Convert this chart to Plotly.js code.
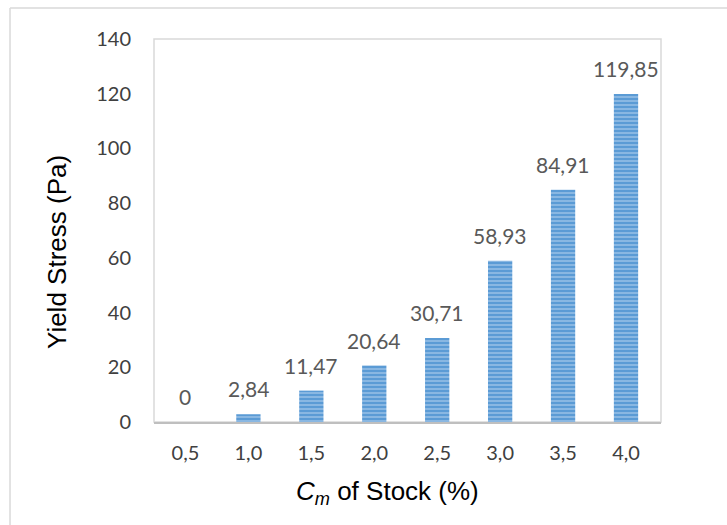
<!DOCTYPE html>
<html>
<head>
<meta charset="utf-8">
<script src="https://cdn.plot.ly/plotly-3.0.1.min.js"></script>
<style>
  html, body { margin: 0; padding: 0; background: #ffffff; }
  #chart { width: 727px; height: 525px; }
</style>
</head>
<body>
<div id="chart"></div>
<script>
// Stock concentration categories (%) and measured yield stress (Pa)
const concentrations = ['0,5', '1,0', '1,5', '2,0', '2,5', '3,0', '3,5', '4,0'];
const yieldStress = [0, 2.84, 11.47, 20.64, 30.71, 58.93, 84.91, 119.85];
const yTicks = [0, 20, 40, 60, 80, 100, 120, 140];

// Value labels with a decimal comma
function fmt(v) {
  return v === 0 ? '0' : v.toFixed(2).replace('.', ',');
}

const labelFont = { family: 'Lato, "Open Sans", sans-serif', size: 21, color: '#595959' };
const tickFont = { family: 'Lato, "Open Sans", sans-serif', size: 20, color: '#404040' };
const titleFont = { family: '"Liberation Sans", Arial, sans-serif', size: 26, color: '#000000' };

const bars = {
  type: 'bar',
  x: concentrations,
  y: yieldStress,
  marker: {
    color: '#5b9bd5',
    line: { width: 0 },
    pattern: {
      shape: '-',
      fillmode: 'overlay',
      bgcolor: '#5b9bd5',
      fgcolor: '#c2daf2',
      size: 4,
      solidity: 0.45
    }
  },
  hoverinfo: 'x+y'
};

const valueLabels = concentrations.map((c, i) => ({
  x: c,
  y: yieldStress[i],
  xref: 'x',
  yref: 'y',
  text: fmt(yieldStress[i]),
  showarrow: false,
  yanchor: 'bottom',
  yshift: 11,
  font: labelFont
}));

// Axis titles placed as annotations
const axisTitles = [
  {
    xref: 'paper', yref: 'paper',
    x: 0.4615, y: -0.185,
    xanchor: 'center', yanchor: 'middle',
    text: '<i>C<sub>m</sub></i> of Stock (%)',
    showarrow: false,
    font: titleFont
  },
  {
    xref: 'paper', yref: 'paper',
    x: -0.19, y: 0.443,
    xanchor: 'center', yanchor: 'middle',
    textangle: -90,
    text: 'Yield Stress (Pa)',
    showarrow: false,
    font: titleFont
  }
];

const layout = {
  width: 727,
  height: 525,
  margin: { l: 154, r: 66, t: 39, b: 103, pad: 0 },
  paper_bgcolor: '#ffffff',
  plot_bgcolor: '#ffffff',
  showlegend: false,
  bargap: 0.614,
  xaxis: {
    type: 'category',
    showgrid: false,
    zeroline: false,
    showline: true,
    linecolor: '#bfbfbf',
    linewidth: 2,
    ticks: '',
    ticklabelstandoff: 12,
    tickfont: tickFont
  },
  yaxis: {
    range: [0, 140],
    tickvals: yTicks,
    ticktext: yTicks.map(String),
    showgrid: false,
    zeroline: false,
    showline: false,
    ticks: '',
    ticklabelstandoff: 22,
    tickfont: tickFont
  },
  annotations: valueLabels.concat(axisTitles),
  shapes: [
    // plot area frame
    {
      type: 'rect', xref: 'paper', yref: 'paper',
      x0: 0, x1: 1, y0: 0, y1: 1,
      line: { color: '#d9d9d9', width: 1.5 },
      layer: 'below'
    },
    // outer chart frame (left and top edges)
    {
      type: 'line', xref: 'paper', yref: 'paper',
      x0: -0.284, x1: -0.284, y0: 1.081, y1: -0.35,
      line: { color: '#d9d9d9', width: 1.5 }
    },
    {
      type: 'line', xref: 'paper', yref: 'paper',
      x0: -0.284, x1: 1.2, y0: 1.081, y1: 1.081,
      line: { color: '#d9d9d9', width: 1.5 }
    }
  ]
};

Plotly.newPlot('chart', [bars], layout, { displayModeBar: false, staticPlot: true });
</script>
</body>
</html>
